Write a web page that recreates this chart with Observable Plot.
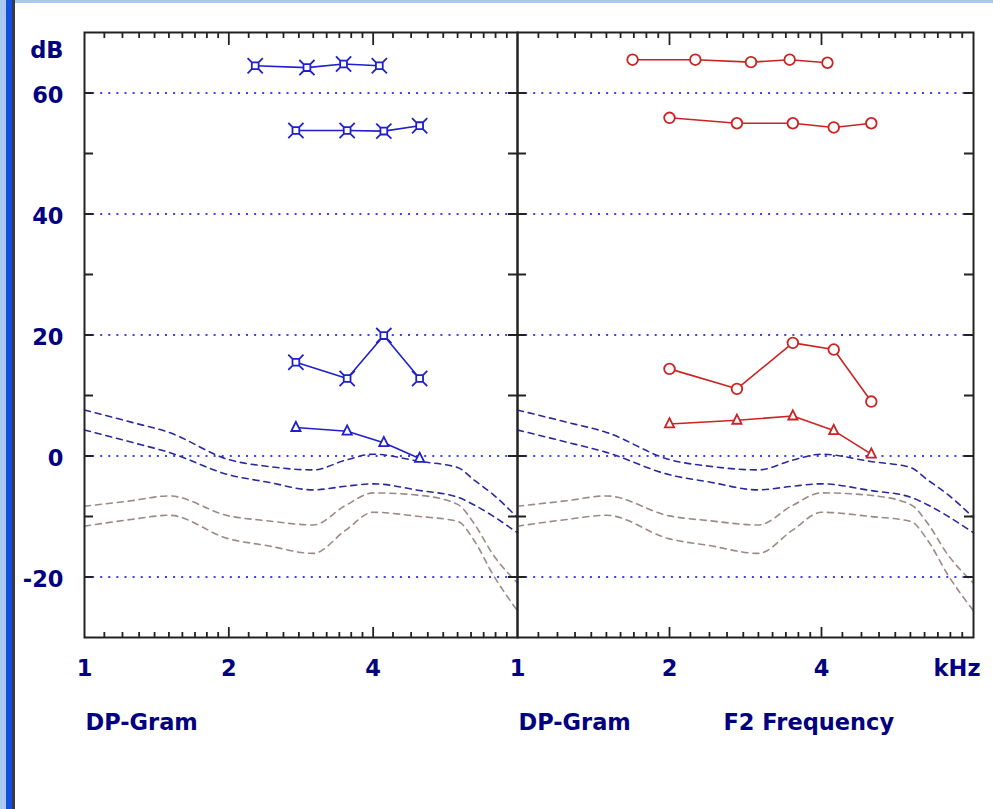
<!DOCTYPE html>
<html>
<head>
<meta charset="utf-8">
<script src="https://cdn.jsdelivr.net/npm/d3@7"></script>
<script src="https://cdn.jsdelivr.net/npm/@observablehq/plot@0.6"></script>
<style>
  html, body { margin: 0; padding: 0; background: #ffffff; }
  #wrap { position: relative; width: 993px; height: 809px; overflow: hidden; background: #ffffff; }
  .chrome { position: absolute; }
  #wrap svg { position: absolute; top: 0; background: transparent; overflow: visible; }
</style>
</head>
<body>
<div id="wrap">
  <div class="chrome" style="left:0;top:0;width:993px;height:3px;background:#a9c9ee"></div>
  <div class="chrome" style="left:0;top:0;width:6px;height:809px;background:#a9c9ee"></div>
  <div class="chrome" style="left:6px;top:0;width:6px;height:809px;background:#1450e0"></div>
  <div class="chrome" style="left:12px;top:0;width:3px;height:809px;background:#3a3a46"></div>
</div>
<script>
// ---------- data ----------
// Y tick labels and grid values (dB)
const yLabels = [60, 40, 20, 0, -20];
const yMinorTicks = [-20, -10, 0, 10, 20, 30, 40, 50, 60];
// X tick labels (kHz)
const xLabels = [1, 2, 4];
const xMajor = [2, 4];
const xMinor = [1, 2, 4].flatMap(b => [1, 2, 3, 4, 5, 6, 7, 8, 9].map(k => b * (1 + k / 10)));

// Noise / reference curves (same in both panels)
const noiseFreq   = [1, 1.25, 1.5, 2, 2.4, 3, 3.5, 4, 5, 6, 6.5, 7.1, 8];
const blueUpper   = [7.6, 5.6, 3.9, -0.6, -1.7, -2.3, -0.7, 0.3, -0.9, -1.9, -4.0, -6.3, -10.2];
const blueLower   = [4.3, 2.3, 0.6, -3.1, -4.3, -5.6, -5.0, -4.6, -5.7, -6.8, -8.1, -9.9, -12.7];
const grayUpper   = [-8.3, -7.4, -6.6, -9.9, -10.7, -11.4, -8.2, -6.1, -6.5, -8.0, -11.2, -16.2, -21.0];
const grayLower   = [-11.6, -10.5, -9.8, -13.7, -14.8, -16.1, -12.3, -9.3, -10.0, -10.8, -14.0, -19.5, -25.6];

// Left panel (blue)
const leftF1    = [2.27, 2.91, 3.47, 4.12];
const leftL1    = [64.5, 64.2, 64.8, 64.5];
const leftF2    = [2.76, 3.53, 4.21, 5.0];
const leftL2    = [53.8, 53.8, 53.7, 54.6];
const leftDP    = [15.5, 12.8, 19.9, 12.8];
const leftNF    = [4.7, 4.1, 2.2, -0.4];

// Right panel (red)
const rightF1   = [1.69, 2.25, 2.9, 3.46, 4.11];
const rightL1   = [65.5, 65.5, 65.1, 65.5, 65.0];
const rightF2   = [2.0, 2.72, 3.51, 4.23, 5.02];
const rightL2   = [55.9, 55.0, 55.0, 54.3, 55.0];
const rightDP   = [14.4, 11.1, 18.7, 17.6, 9.0];
const rightNF   = [5.3, 5.9, 6.6, 4.2, 0.3];

// ---------- styles ----------
const NAVY = "#000080";
const FONT = "DejaVu Sans";
const FS = 22.5;
const GRID = "#4040f0";
const FRAME = "#222222";
const NOISE_BLUE = "#2a2aa0";
const NOISE_GRAY = "#9c8a86";

const H = 809, MT = 32, MB = 172;
const PH = H - MT - MB; // plot height in px

// custom symbols
const squareX = {
  draw(ctx, size) {
    const r = Math.sqrt(size / Math.PI);
    const h = r * 0.85, e = r * 1.9;
    ctx.moveTo(-h, -h); ctx.lineTo(h, -h); ctx.lineTo(h, h); ctx.lineTo(-h, h); ctx.closePath();
    for (const [sx, sy] of [[1, 1], [1, -1], [-1, 1], [-1, -1]]) {
      ctx.moveTo(sx * h, sy * h); ctx.lineTo(sx * e, sy * e);
    }
  }
};
const triUp = {
  draw(ctx, size) {
    const r = Math.sqrt(size / Math.PI);
    ctx.moveTo(0, -r * 1.25); ctx.lineTo(r, r * 0.75); ctx.lineTo(-r, r * 0.75); ctx.closePath();
  }
};

const zip = (xs, ys) => xs.map((x, i) => ({x, y: ys[i]}));

function panel({width, marginLeft, marginRight, f1, l1, f2, l2, dp, nf, color, marker, markerR, left}) {
  const PW = width - marginLeft - marginRight;
  const txt = {fill: NAVY, fontFamily: FONT, fontSize: FS, fontWeight: "bold", lineAnchor: "middle"};
  const dash = {strokeWidth: 1.6, strokeDasharray: "6,5", curve: "monotone-x"};
  const marks = [
    // dotted grid
    Plot.ruleY(yLabels, {y: d => d, stroke: GRID, strokeWidth: 2, strokeDasharray: "2,6.1"}),
    // reference curves
    Plot.line(zip(noiseFreq, grayUpper), {x: "x", y: "y", stroke: NOISE_GRAY, ...dash}),
    Plot.line(zip(noiseFreq, grayLower), {x: "x", y: "y", stroke: NOISE_GRAY, ...dash}),
    Plot.line(zip(noiseFreq, blueUpper), {x: "x", y: "y", stroke: NOISE_BLUE, ...dash}),
    Plot.line(zip(noiseFreq, blueLower), {x: "x", y: "y", stroke: NOISE_BLUE, ...dash}),
    // frame
    Plot.frame({stroke: FRAME, strokeWidth: 2}),
    // x ticks top / bottom
    Plot.tickX(xMinor, {x: d => d, insetBottom: PH - 6, stroke: FRAME, strokeWidth: 1.8}),
    Plot.tickX(xMajor, {x: d => d, insetBottom: PH - 13, stroke: FRAME, strokeWidth: 1.8}),
    Plot.tickX(xMinor, {x: d => d, insetTop: PH - 5, stroke: FRAME, strokeWidth: 1.8}),
    Plot.tickX(xMajor, {x: d => d, insetTop: PH - 10, stroke: FRAME, strokeWidth: 1.8}),
    // y ticks on both sides
    Plot.tickY(yMinorTicks, {y: d => d, insetRight: PW - 9, stroke: FRAME, strokeWidth: 2}),
    Plot.tickY(yMinorTicks, {y: d => d, insetLeft: PW - 9, stroke: FRAME, strokeWidth: 2}),
  ];
  // data series
  for (const [fx, vals, sym] of [[f1, l1, marker], [f2, l2, marker], [f2, dp, marker], [f2, nf, triUp]]) {
    const data = zip(fx, vals);
    marks.push(Plot.line(data, {x: "x", y: "y", stroke: color, strokeWidth: 1.6}));
    marks.push(Plot.dot(data, {x: "x", y: "y", symbol: sym, r: sym === triUp ? 4.6 : markerR, stroke: color, strokeWidth: 1.8, fill: "white"}));
  }
  // x tick labels
  marks.push(Plot.text(xLabels, {x: d => d, text: d => String(d), frameAnchor: "bottom", dy: 31.5, ...txt}));
  if (left) {
    marks.push(Plot.text(yLabels, {y: d => d, text: d => String(d), frameAnchor: "left", textAnchor: "end", dx: -21, dy: 3, ...txt}));
    marks.push(Plot.text(["dB"], {text: d => d, frameAnchor: "top-left", textAnchor: "end", dx: -21, dy: 18.5, ...txt}));
    marks.push(Plot.text(["DP-Gram"], {text: d => d, frameAnchor: "bottom-left", textAnchor: "start", dx: 1, dy: 85, ...txt}));
  } else {
    marks.push(Plot.text(["kHz"], {text: d => d, frameAnchor: "bottom-right", textAnchor: "end", dx: 7, dy: 31.5, ...txt}));
    marks.push(Plot.text(["DP-Gram"], {text: d => d, frameAnchor: "bottom-left", textAnchor: "start", dx: 1, dy: 85, ...txt}));
    marks.push(Plot.text(["F2 Frequency"], {text: d => d, frameAnchor: "bottom-left", textAnchor: "start", dx: 206, dy: 85, ...txt}));
  }
  return Plot.plot({
    width, height: H, marginTop: MT, marginBottom: MB, marginLeft, marginRight,
    x: {type: "log", domain: [1, 8], axis: null},
    y: {domain: [-30, 70], axis: null},
    style: {background: "transparent", overflow: "visible"},
    marks
  });
}

const wrap = document.getElementById("wrap");
const leftSvg = panel({width: 520, marginLeft: 84, marginRight: 3,
  f1: leftF1, l1: leftL1, f2: leftF2, l2: leftL2, dp: leftDP, nf: leftNF,
  color: "#1f1fcc", marker: squareX, markerR: 4, left: true});
leftSvg.style.left = "0px";
wrap.appendChild(leftSvg);

const rightSvg = panel({width: 479, marginLeft: 3, marginRight: 20,
  f1: rightF1, l1: rightL1, f2: rightF2, l2: rightL2, dp: rightDP, nf: rightNF,
  color: "#cc2222", marker: "circle", markerR: 5.3, left: false});
rightSvg.style.left = "514px";
wrap.appendChild(rightSvg);
</script>
</body>
</html>
